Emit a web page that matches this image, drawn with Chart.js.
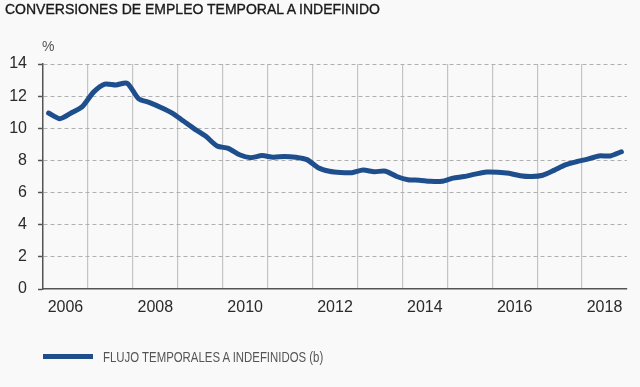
<!DOCTYPE html>
<html>
<head>
<meta charset="utf-8">
<script src="https://cdn.jsdelivr.net/npm/chart.js@4/dist/chart.umd.min.js"></script>
<style>
  body { margin: 0; background: #f9f9fa; }
  #wrap { position: relative; width: 640px; height: 387px; }
  #title { position: absolute; left: 5px; top: 1px; font: 14px "Liberation Sans", Arial, sans-serif; color: #1a1a1a; white-space: nowrap; -webkit-text-stroke: 0.35px #1a1a1a; }
  #unit { position: absolute; left: 42px; top: 38px; font: 14px "Liberation Sans", Arial, sans-serif; color: #555; }
  #legend { position: absolute; left: 43px; top: 348px; display: flex; align-items: center; }
  #legend .swatch { width: 50px; height: 5px; background: #1f4e8d; margin-right: 10px; }
  #legend .txt { font: 15px "Liberation Sans", Arial, sans-serif; color: #555; white-space: nowrap; transform: scaleX(0.76); transform-origin: left center; }
</style>
</head>
<body>
<div id="wrap">
  <canvas id="chart" width="640" height="387"></canvas>
  <div id="title">CONVERSIONES DE EMPLEO TEMPORAL A INDEFINIDO</div>
  <div id="unit">%</div>
  <div id="legend"><div class="swatch"></div><div class="txt">FLUJO TEMPORALES A INDEFINIDOS (b)</div></div>
</div>
<script>
// quarters 2006 T1 .. 2018 T4
const quarters = [
  "2006T1","2006T2","2006T3","2006T4","2007T1","2007T2","2007T3","2007T4",
  "2008T1","2008T2","2008T3","2008T4","2009T1","2009T2","2009T3","2009T4",
  "2010T1","2010T2","2010T3","2010T4","2011T1","2011T2","2011T3","2011T4",
  "2012T1","2012T2","2012T3","2012T4","2013T1","2013T2","2013T3","2013T4",
  "2014T1","2014T2","2014T3","2014T4","2015T1","2015T2","2015T3","2015T4",
  "2016T1","2016T2","2016T3","2016T4","2017T1","2017T2","2017T3","2017T4",
  "2018T1","2018T2","2018T3","2018T4"
];

const flujo = [
  10.95, 10.6, 10.95, 11.35, 12.25, 12.75, 12.7, 12.8,
  11.85, 11.6, 11.3, 10.95, 10.45, 9.95, 9.5, 8.9,
  8.75, 8.35, 8.17, 8.3, 8.2, 8.25, 8.2, 8.05,
  7.55, 7.33, 7.25, 7.24, 7.4, 7.3, 7.33, 7.0,
  6.8, 6.77, 6.7, 6.7, 6.9, 7.0, 7.15, 7.28,
  7.27, 7.2, 7.05, 7.0, 7.08, 7.38, 7.72, 7.92,
  8.08, 8.28, 8.28, 8.54
];

const yTicks = [0, 2, 4, 6, 8, 10, 12, 14];
const yearLabels = ["2006", "2008", "2010", "2012", "2014", "2016", "2018"];

const ctx = document.getElementById("chart").getContext("2d");

new Chart(ctx, {
  type: "line",
  data: {
    labels: quarters,
    datasets: [{
      label: "FLUJO TEMPORALES A INDEFINIDOS (b)",
      data: flujo,
      borderColor: "#1f4e8d",
      backgroundColor: "#1f4e8d",
      borderWidth: 5,
      pointRadius: 0,
      tension: 0.25,
      borderCapStyle: "round",
      borderJoinStyle: "round"
    }]
  },
  options: {
    responsive: false,
    animation: false,
    layout: { padding: { left: 0, top: 64, right: 13, bottom: 68 } },
    plugins: { legend: { display: false }, title: { display: false }, tooltip: { enabled: false } },
    scales: {
      x: {
        type: "category",
        offset: true,
        afterFit: (scale) => { scale.height = 30; },
        grid: {
          offset: true,
          drawTicks: false,
          lineWidth: 1.2,
          color: (c) => (c.index > 0 && c.index <= quarters.length && c.index % 4 === 0) ? "#c4c4c4" : "rgba(0,0,0,0)"
        },
        border: { color: "#555", width: 1.5 },
        ticks: {
          autoSkip: false,
          maxRotation: 0,
          padding: 9,
          labelOffset: 5.6,
          color: "#2a2a2a",
          font: { family: "'Liberation Sans', Arial, sans-serif", size: 16 },
          callback: function (val, i) {
            const q = quarters[i];
            return (q.endsWith("T2") && yearLabels.includes(q.slice(0, 4))) ? q.slice(0, 4) : "";
          }
        }
      },
      y: {
        min: 0,
        max: 14,
        afterFit: (scale) => { scale.width = 43; },
        afterBuildTicks: (scale) => { scale.ticks = yTicks.map((v) => ({ value: v })); },
        grid: {
          color: (c) => c.tick.value === 0 ? "rgba(0,0,0,0)" : "#b0b0b0",
          lineWidth: 1,
          tickLength: 5,
          tickColor: "#555",
          tickBorderDash: [],
          tickWidth: 1.5
        },
        border: { color: "#555", width: 1.5, dash: [4, 3] },
        ticks: {
          padding: 11,
          color: "#2a2a2a",
          font: { family: "'Liberation Sans', Arial, sans-serif", size: 16 }
        }
      }
    }
  }
});
</script>
</body>
</html>
